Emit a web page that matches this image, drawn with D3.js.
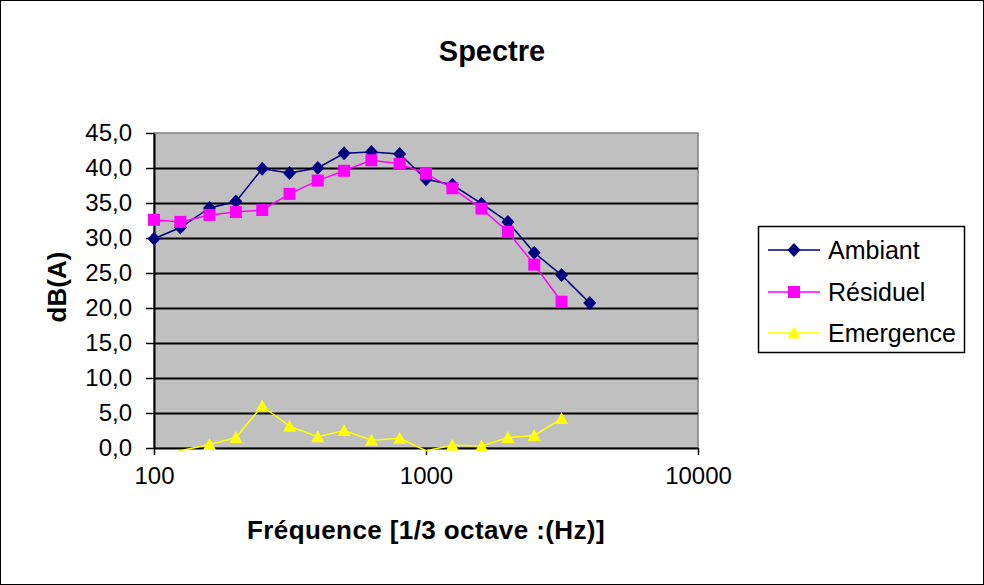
<!DOCTYPE html>
<html><head><meta charset="utf-8">
<script src="https://cdn.jsdelivr.net/npm/d3@7"></script>
<style>
html,body{margin:0;padding:0;background:#fff;}
svg{display:block;font-family:"Liberation Sans",Arial,sans-serif;}
</style></head>
<body><svg id="chart" width="984" height="585"></svg>
<script>
const title = "Spectre";
const xTitle = "Fréquence [1/3 octave :(Hz)]";
const yTitle = "dB(A)";
const freqs = [100,125,160,200,250,315,400,500,630,800,1000,1250,1600,2000,2500,3150,4000];
const ambiant = [29.9,31.5,34.3,35.2,39.9,39.3,40.0,42.1,42.3,42.0,38.4,37.6,34.9,32.3,27.9,24.7,20.7];
const residuel = [32.6,32.3,33.3,33.7,34.0,36.3,38.2,39.6,41.1,40.6,39.2,37.1,34.2,30.9,26.2,20.9];
const emergence = [-2.7,-0.4,0.5,1.5,6.0,3.1,1.6,2.5,1.1,1.4,-0.4,0.4,0.3,1.5,1.8,4.2];
const xTicks = [100,1000,10000];
const yTicks = [0,5,10,15,20,25,30,35,40,45];
const seriesNames = ["Ambiant","Résiduel","Emergence"];

const svg = d3.select("#chart");
const W = 984, H = 585;
const P = {l:154, r:698, t:133, b:448};

svg.append("rect").attr("x",0.5).attr("y",0.5).attr("width",W-1).attr("height",H-1)
  .attr("fill","#fff").attr("stroke","#000").attr("stroke-width",1);

const x = d3.scaleLog().domain([100,10000]).range([P.l,P.r]);
const y = d3.scaleLinear().domain([0,45]).range([P.b,P.t]);

// plot background
svg.append("rect").attr("x",P.l).attr("y",P.t).attr("width",P.r-P.l).attr("height",P.b-P.t)
  .attr("fill","#c0c0c0").attr("stroke","#808080").attr("stroke-width",1.5);

// gridlines
const grid = svg.append("g").attr("transform",`translate(${P.l},0)`)
  .call(d3.axisLeft(y).tickValues(yTicks.filter(v=>v>0&&v<45)).tickSize(-(P.r-P.l)).tickFormat(""));
grid.select(".domain").remove();
grid.selectAll("line").attr("stroke","#000").attr("stroke-width",2);

// y axis
const fmt = v => d3.format(".1f")(v).replace(".",",");
const ya = svg.append("g").attr("transform",`translate(${P.l},0)`)
  .call(d3.axisLeft(y).tickValues(yTicks).tickSize(8).tickSizeOuter(0).tickPadding(14).tickFormat(fmt));
ya.select(".domain").attr("stroke","#000").attr("stroke-width",2);
ya.selectAll("line").attr("stroke","#000").attr("stroke-width",1.5);
ya.selectAll("text").attr("font-size",24).attr("fill","#000").attr("font-family","Liberation Sans, Arial, sans-serif");

// x axis
const xa = svg.append("g").attr("transform",`translate(0,${P.b})`)
  .call(d3.axisBottom(x).tickValues(xTicks).tickSize(7).tickSizeOuter(0).tickPadding(12).tickFormat(d3.format("d")));
xa.select(".domain").attr("stroke","#000").attr("stroke-width",2);
xa.selectAll("line").attr("stroke","#000").attr("stroke-width",1.5);
xa.selectAll("text").attr("font-size",24).attr("fill","#000").attr("font-family","Liberation Sans, Arial, sans-serif");

// clip
svg.append("clipPath").attr("id","clip").append("rect")
  .attr("x",P.l-8).attr("y",P.t-8).attr("width",P.r-P.l+16).attr("height",P.b-P.t+12);

const diamond = "M0,-7L6.5,0L0,7L-6.5,0Z";
const square = "M-6,-6H6V6H-6Z";
const triangle = "M0,-6.5L6.5,5.5H-6.5Z";

const series = [
  {name:seriesNames[0], vals:ambiant, color:"#000080", marker:diamond},
  {name:seriesNames[1], vals:residuel, color:"#ff00ff", marker:square},
  {name:seriesNames[2], vals:emergence, color:"#ffff00", marker:triangle}
];

const line = d3.line().x(d=>x(d.f)).y(d=>y(d.v));
const plotG = svg.append("g").attr("clip-path","url(#clip)");
series.forEach(s=>{
  const pts = s.vals.map((v,i)=>({f:freqs[i], v}));
  plotG.append("path").datum(pts).attr("d",line).attr("fill","none")
    .attr("stroke",s.color).attr("stroke-width",1.5);
  plotG.selectAll(null).data(pts.filter(p=>p.v>=0)).enter().append("path")
    .attr("d",s.marker).attr("transform",p=>`translate(${x(p.f)},${y(p.v)})`)
    .attr("fill",s.color);
});

// title
svg.append("text").attr("x",492).attr("y",61).attr("text-anchor","middle")
  .attr("font-size",29).attr("font-weight","bold").text(title);
// x title
svg.append("text").attr("x",426).attr("y",539).attr("text-anchor","middle")
  .attr("font-size",26).attr("font-weight","bold").attr("letter-spacing",0.4).text(xTitle);
// y title
svg.append("text").attr("transform","translate(66,287) rotate(-90)").attr("text-anchor","middle")
  .attr("font-size",26).attr("font-weight","bold").text(yTitle);

// legend
const lg = svg.append("g");
lg.append("rect").attr("x",758.5).attr("y",226.5).attr("width",206).attr("height",126)
  .attr("fill","#fff").attr("stroke","#000").attr("stroke-width",1.5);
const rowsY = [250,292,333];
series.forEach((s,i)=>{
  const yy = rowsY[i];
  lg.append("line").attr("x1",768).attr("x2",820).attr("y1",yy).attr("y2",yy)
    .attr("stroke",s.color).attr("stroke-width",1.5);
  lg.append("path").attr("d",s.marker).attr("transform",`translate(794,${yy})`).attr("fill",s.color);
  lg.append("text").attr("x",828).attr("y",yy+8.5).attr("font-size",25).attr("fill","#000").text(s.name);
});
</script></body></html>
